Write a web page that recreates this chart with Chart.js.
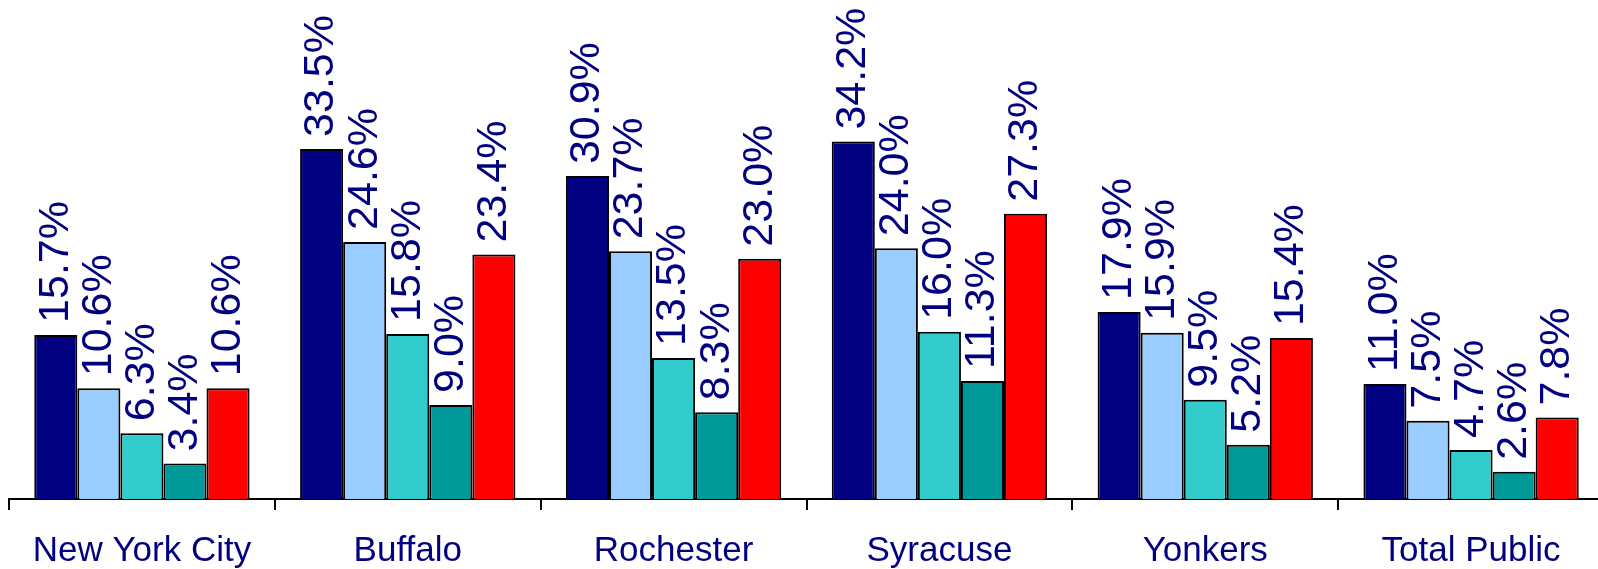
<!DOCTYPE html>
<html>
<head>
<meta charset="utf-8">
<script src="https://cdn.jsdelivr.net/npm/chart.js@4.4.1/dist/chart.umd.min.js"></script>
<style>
  html, body { margin: 0; padding: 0; background: #fff; overflow: hidden; }
  #wrap { width: 1604px; height: 569px; }
</style>
</head>
<body>
<div id="wrap"><canvas id="chart" width="1604" height="569"></canvas></div>
<script>
// categories and series values (percent)
const categories = ['New York City', 'Buffalo', 'Rochester', 'Syracuse', 'Yonkers', 'Total Public'];
const series1 = [15.7, 33.5, 30.9, 34.2, 17.9, 11.0];
const series2 = [10.6, 24.6, 23.7, 24.0, 15.9, 7.5];
const series3 = [6.3, 15.8, 13.5, 16.0, 9.5, 4.7];
const series4 = [3.4, 9.0, 8.3, 11.3, 5.2, 2.6];
const series5 = [10.6, 23.4, 23.0, 27.3, 15.4, 7.8];
const seriesColors = ['#000080', '#99CCFF', '#33CCCC', '#009999', '#FF0000'];

const navy = '#000080';

// vertical value labels above each bar
const barLabels = {
  id: 'barLabels',
  afterDatasetsDraw(chart) {
    const ctx = chart.ctx;
    ctx.save();
    ctx.fillStyle = navy;
    ctx.font = '43px "Liberation Sans", Arial, sans-serif';
    ctx.textAlign = 'left';
    ctx.textBaseline = 'middle';
    chart.data.datasets.forEach((ds, i) => {
      chart.getDatasetMeta(i).data.forEach((bar, j) => {
        ctx.save();
        ctx.translate(bar.x, bar.y - 12);
        ctx.rotate(-Math.PI / 2);
        ctx.fillText(ds.data[j].toFixed(1) + '%', 0, 0);
        ctx.restore();
      });
    });
    ctx.restore();
  }
};

const data = [series1, series2, series3, series4, series5];

new Chart(document.getElementById('chart'), {
  type: 'bar',
  data: {
    labels: categories,
    datasets: data.map((d, i) => ({
      data: d,
      backgroundColor: seriesColors[i],
      borderColor: '#000',
      borderWidth: 2,
      borderSkipped: 'bottom',
      categoryPercentage: 0.81,
      barPercentage: 1.0
    }))
  },
  options: {
    responsive: false,
    animation: false,
    layout: { padding: { left: 9, right: 0, top: 81, bottom: 0 } },
    plugins: {
      legend: { display: false },
      tooltip: { enabled: false }
    },
    scales: {
      x: {
        afterFit(scale) { scale.height = 70; },
        grid: {
          offset: true,
          drawOnChartArea: false,
          color: '#000',
          lineWidth: 2,
          tickLength: 11
        },
        border: { color: '#000', width: 2 },
        ticks: {
          color: navy,
          padding: 24,
          font: { family: '"Liberation Sans", Arial, sans-serif', size: 35, lineHeight: 1.0 }
        }
      },
      y: {
        display: false,
        min: 0,
        max: 40
      }
    }
  },
  plugins: [barLabels]
});
</script>
</body>
</html>
